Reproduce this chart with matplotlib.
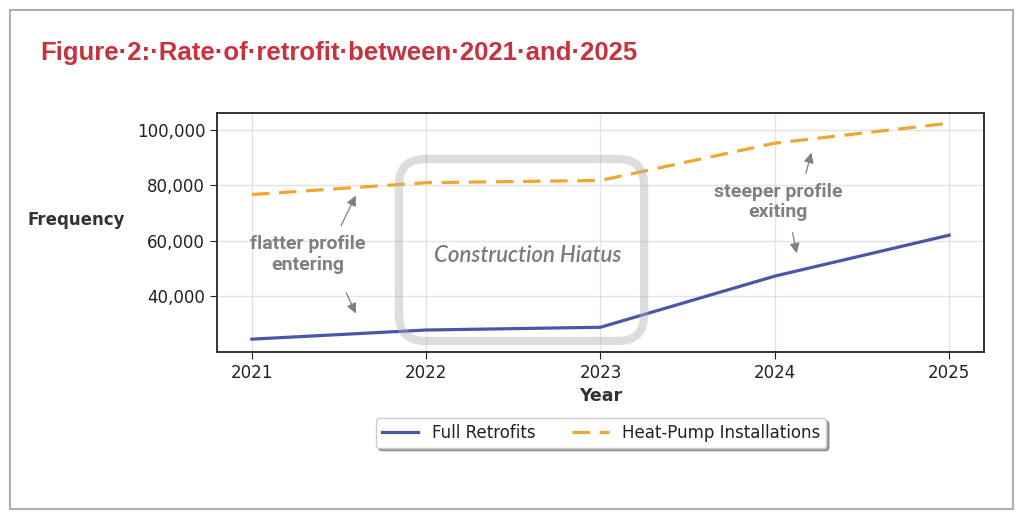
import matplotlib
matplotlib.use("Agg")
import matplotlib.pyplot as plt
from matplotlib.patches import FancyBboxPatch, Rectangle

plt.rcParams["font.family"] = ["DejaVu Sans"]

years = [2021, 2022, 2023, 2024, 2025]
full_retrofits = [24400, 27700, 28700, 47200, 62000]
heat_pump = [76700, 81000, 81800, 95300, 102500]
yticks = [40000, 60000, 80000, 100000]
ytick_labels = ["40,000", "60,000", "80,000", "100,000"]

fig = plt.figure(figsize=(10.24, 5.21), dpi=100)
W, H = 1024, 521

def fx(px):
    return px / W

def fy(py):
    return 1 - py / H

# outer frame
fig.patches.append(Rectangle((fx(10), fy(509)), fx(1003), (499) / H, transform=fig.transFigure,
                             fill=False, edgecolor="#b0b0b0", linewidth=1.5))

fig.text(fx(40), fy(53), "Figure·2:·Rate·of·retrofit·between·2021·and·2025",
         color="#c8323c", fontsize=18.5, fontweight="bold", family="Liberation Sans",
         va="center", ha="left")

ax = fig.add_axes([fx(217), fy(352), fx(984) - fx(217), (352 - 113) / H])
ax.plot(years, full_retrofits, color="#4a56a8", linewidth=2.3, label="Full Retrofits", zorder=2)
ax.plot(years, heat_pump, color="#f0a732", linewidth=2.3, linestyle=(0, (5.5, 3)),
        label="Heat-Pump Installations", zorder=2)
ax.set_xlim(2020.8, 2025.2)
ax.set_ylim(19750, 106200)
ax.set_xticks(years)
ax.set_xticklabels([str(y) for y in years], fontsize=12)
ax.set_yticks(yticks)
ax.set_yticklabels(ytick_labels, fontsize=12)
ax.grid(True, color="#e3e3e3", linewidth=1)
for s in ax.spines.values():
    s.set_color("#333333")
    s.set_linewidth(1.4)
ax.tick_params(colors="#222222", length=5)

ax.set_xlabel("Year", fontsize=12.5, fontweight="bold", color="#333333", labelpad=4)
fig.text(fx(76), fy(220), "Frequency", fontsize=12, fontweight="bold", color="#333333",
         ha="center", va="center")

# Construction hiatus box
box = FancyBboxPatch((2021.844, 23730), 2023.25 - 2021.844, 89550 - 23730,
                     boxstyle="round,pad=0,rounding_size=0.15",
                     mutation_aspect=(86450 / 239) / (4.4 / 767),
                     fill=False, edgecolor="#b0b0b0", alpha=0.42, linewidth=6, zorder=3)
ax.add_patch(box)
ax.text(2022.58, 54500, "Construction Hiatus", fontsize=16, style="italic",
        color="#7b7b7b", family="Lato", fontweight="semibold", ha="center", va="center")

gray = "#808080"
ax.text(2021.32, 55000, "flatter profile\nentering", fontsize=14, fontweight="bold",
        color=gray, family="Roboto", ha="center", va="center", linespacing=1.15)
ax.annotate("", xy=(2021.603, 77250), xytext=(2021.505, 64600),
            arrowprops=dict(arrowstyle="-|>", color=gray, lw=0.9, mutation_scale=15))
ax.annotate("", xy=(2021.603, 32770), xytext=(2021.534, 42170),
            arrowprops=dict(arrowstyle="-|>", color=gray, lw=0.9, mutation_scale=15))

ax.text(2024.02, 74000, "steeper profile\nexiting", fontsize=14, fontweight="bold",
        color=gray, family="Roboto", ha="center", va="center", linespacing=1.15)
ax.annotate("", xy=(2024.214, 92800), xytext=(2024.174, 83400),
            arrowprops=dict(arrowstyle="-|>", color=gray, lw=0.9, mutation_scale=15))
ax.annotate("", xy=(2024.128, 54470), xytext=(2024.099, 63870),
            arrowprops=dict(arrowstyle="-|>", color=gray, lw=0.9, mutation_scale=15))

leg = ax.legend(loc="center", bbox_to_anchor=((fx(601) - fx(217)) / (fx(984) - fx(217)),
                                              (352 - 433) / (352 - 113)),
                ncol=2, fontsize=12, frameon=True, shadow=True, fancybox=True,
                handlelength=2.2, columnspacing=2.2, borderpad=0.35)
leg.get_frame().set_edgecolor("#cccccc")
for t in leg.get_texts():
    t.set_color("#222222")

fig.savefig("out.png", dpi=100)
